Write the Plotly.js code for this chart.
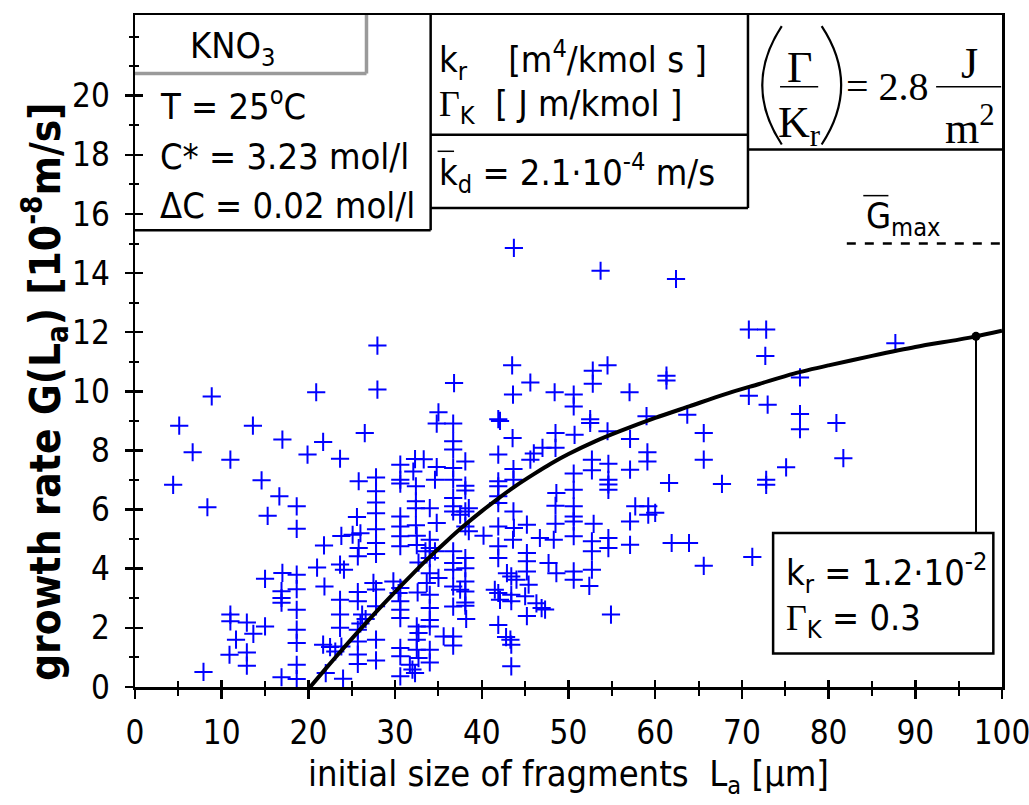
<!DOCTYPE html>
<html>
<head>
<meta charset="utf-8">
<script src="https://cdn.plot.ly/plotly-3.0.1.min.js"></script>
<style>html,body{margin:0;padding:0;background:#fff}#chart{width:1029px;height:805px}</style>
</head>
<body>
<div id="chart"></div>
<script>
// measured fragment data: initial size L_a [µm] and growth rate G [1e-8 m/s]
const sizeLa = [
 8.85,20.9,27.96,5.1,13.6,17.0,21.7,26.5,6.65,11.0,19.9,23.65,4.4,14.6,16.65,18.65,8.35,15.3,18.65,25.8,
 27.8,27.8,27.8,27.8,27.8,27.8,27.8,25.6,23.8,25.1,26.0,25.8,25.7,21.8,21.0,23.65,24.1,21.85,15.0,17.0,
 16.9,16.9,16.9,18.65,18.65,18.65,18.65,18.65,18.65,18.65,16.9,11.0,11.0,12.9,13.65,15.0,11.65,10.9,12.9,12.9,
 7.9,23.65,25.7,27.5,27.8,23.65,23.65,25.7,26.2,26.6,26.0,25.7,27.8,27.8,27.8,25.7,25.7,25.7,21.7,22.5,
 23.1,23.8,22.0,24.0,30.6,30.6,30.6,32.3,32.1,32.4,32.4,32.4,32.4,30.6,30.6,30.6,30.6,32.5,32.5,29.8,
 30.6,30.4,30.6,30.6,30.6,32.6,32.5,32.5,32.5,30.6,30.6,30.6,31.7,32.0,32.3,32.7,32.7,32.7,
 35.0,34.8,36.7,41.9,42.1,36.7,36.7,38.1,36.7,36.7,43.55,41.9,43.65,43.65,45.6,46.0,47.0,48.5,48.5,33.3,
 34.8,34.6,38.1,38.1,36.7,36.7,34.0,34.8,36.7,37.5,38.1,38.5,38.1,38.5,41.9,41.9,41.9,41.9,43.65,45.2,
 41.9,43.7,40.2,48.5,48.5,48.6,34.0,34.0,33.5,34.6,34.0,34.0,35.0,33.65,34.0,34.0,34.0,34.0,34.0,34.0,
 35.6,36.7,36.7,36.7,36.7,36.7,38.1,38.1,38.1,36.7,37.5,38.1,36.7,38.1,38.1,38.2,41.9,41.9,41.5,41.9,
 42.1,43.4,43.4,41.9,42.9,43.4,44.0,42.8,43.3,43.4,43.4,43.6,45.2,45.2,45.2,45.4,45.0,45.2,46.3,46.9,
 47.3,47.7,48.6,46.7,48.3,50.6,52.5,52.5,50.7,54.5,57.1,59.0,63.7,65.6,59.1,59.1,65.6,52.7,54.6,52.7,
 50.6,54.6,54.6,54.6,57.1,61.6,50.6,50.6,50.6,50.6,50.6,52.9,52.7,52.7,54.6,54.6,57.1,57.1,57.7,59.2,
 59.2,60.0,61.9,63.9,65.6,50.6,50.6,52.7,52.4,54.9,27.96,43.7,53.7,62.4,36.8,43.5,45.6,43.6,48.4,50.6,
 52.8,54.5,52.8,57.04,61.3,61.3,70.8,72.8,72.7,87.7,76.7,70.8,72.97,76.7,76.7,80.9,81.7,67.7,72.8,72.8,
 75.1,71.2
];
const growthG = [
 9.83,9.97,10.06,8.84,8.84,8.37,8.29,8.59,7.94,7.69,7.86,7.72,6.84,6.99,6.45,6.11,6.08,5.79,5.35,6.96,
 7.09,6.62,6.24,5.88,5.34,4.87,4.5,5.75,5.11,5.15,5.2,4.7,4.42,4.79,4.04,4.14,3.97,3.40,3.66,3.86,
 3.24,3.01,2.85,3.8,3.31,2.61,1.94,1.49,0.75,0.27,0.33,2.45,2.22,2.18,1.8,2.05,1.6,1.09,1.17,0.72,
 0.51,2.95,3.21,3.52,3.3,2.45,2.0,2.9,2.45,2.3,2.15,1.94,2.73,1.6,0.9,1.54,1.1,0.78,1.43,1.35,
 1.2,1.37,0.47,0.28,7.52,7.01,6.88,7.71,7.29,6.79,6.28,6.05,5.47,5.77,5.43,5.1,4.76,5.12,4.8,3.57,
 3.35,3.18,2.9,2.61,2.33,3.2,2.05,1.6,1.26,1.32,1.04,0.36,0.75,0.59,0.47,1.83,0.98,4.21,
 9.29,8.91,8.91,9.06,9.0,8.31,8.03,7.63,7.41,7.01,8.42,7.86,7.37,7.01,7.69,7.9,8.09,8.59,8.09,7.7,
 7.44,7.01,6.81,6.65,6.39,6.11,6.05,5.55,5.94,5.83,5.94,6.05,5.43,5.27,6.96,6.79,6.45,6.22,5.94,5.49,
 5.43,5.38,5.12,6.13,5.52,6.56,4.98,4.7,4.59,4.59,4.36,3.85,3.69,3.52,3.12,2.67,2.27,2.05,1.26,0.83,
 1.71,1.71,1.4,4.59,4.19,3.97,4.36,4.02,3.57,3.4,3.29,3.23,2.72,2.86,2.75,2.3,4.76,4.36,3.29,3.18,
 2.95,3.12,2.9,2.1,3.85,3.74,3.63,1.69,1.6,1.43,0.7,4.98,4.53,4.25,3.91,3.46,3.07,2.4,2.83,2.67,
 2.62,4.19,3.85,5.04,4.98,9.49,9.06,8.93,8.53,8.65,8.39,9.16,9.21,8.59,7.94,7.63,7.69,7.69,7.55,7.33,
 7.22,7.01,6.85,6.67,7.35,6.9,6.67,6.11,5.77,5.6,5.1,5.52,4.93,4.59,5.04,4.7,5.6,4.81,6.11,6.11,
 5.83,5.89,4.87,4.87,4.1,3.91,3.63,3.97,3.42,2.45,11.55,14.85,14.08,13.8,10.28,10.88,10.3,9.89,9.97,9.89,
 10.7,10.88,10.26,9.97,10.53,10.37,12.09,12.09,11.2,11.63,10.47,9.85,9.55,9.23,8.72,8.93,7.74,6.87,7.01,6.84,
 7.43,4.4
];
// model curve
const curveLa = [20.2,22,24,26,28,30,32,34,36,38,40,42,44,46,48,50,53,56,60,64,68,72,76,80,85,90,95,97,100];
const curveG  = [0,0.62,1.3,1.96,2.6,3.22,3.82,4.4,4.95,5.47,5.95,6.4,6.82,7.2,7.56,7.88,8.3,8.66,9.1,9.5,9.9,10.25,10.6,10.88,11.2,11.5,11.75,11.86,12.05];
// highlighted point and maximum growth rate
const markLa = [97];
const markG = [11.86];
const gMax = 15.0;
const gMaxFrom = 82.1;
const xTickVals = [0,10,20,30,40,50,60,70,80,90,100];
const yTickVals = [0,2,4,6,8,10,12,14,16,18,20];

const FN = "'Liberation Sans Narrow','Arial Narrow','DejaVu Sans Condensed',sans-serif";
const SERIF = "'Liberation Serif','Times New Roman',serif";
const YTOP = 22.73;

const traces = [
  {x:sizeLa, y:growthG, type:'scatter', mode:'markers',
   marker:{symbol:'cross-thin-open', size:13, color:'#0000ff', line:{color:'#0000ff', width:2}},
   hoverinfo:'skip'},
  {x:curveLa, y:curveG, type:'scatter', mode:'lines', line:{color:'#000', width:4, shape:'spline', smoothing:0.8}, hoverinfo:'skip'},
  {x:[gMaxFrom,100], y:[gMax,gMax], type:'scatter', mode:'lines', line:{color:'#000', width:2.5, dash:'dash'}, hoverinfo:'skip'},
  {x:markLa, y:markG, type:'scatter', mode:'markers', marker:{color:'#000', size:9}, hoverinfo:'skip'},
  {x:[null], y:[null], xaxis:'x2', yaxis:'y2', type:'scatter', mode:'markers', showlegend:false, hoverinfo:'skip'}
];

const boxLine = {color:'#000', width:2.5};
const grayLine = {color:'#9a9a9a', width:3.5};
const thin = {color:'#000', width:1.5};
const shapes = [
  // left info box
  {type:'line', xref:'x', yref:'y', x0:0, x1:34.1, y0:15.45, y1:15.45, line:boxLine},
  {type:'line', xref:'x', yref:'y', x0:34.1, x1:34.1, y0:15.45, y1:YTOP, line:boxLine},
  // KNO3 tab
  {type:'line', xref:'x', yref:'y', x0:0, x1:26.7, y0:20.75, y1:20.75, line:grayLine},
  {type:'line', xref:'x', yref:'y', x0:26.7, x1:26.7, y0:20.75, y1:YTOP, line:grayLine},
  // middle boxes
  {type:'line', xref:'x', yref:'y', x0:34.1, x1:70.7, y0:18.68, y1:18.68, line:boxLine},
  {type:'line', xref:'x', yref:'y', x0:34.1, x1:70.7, y0:16.2, y1:16.2, line:boxLine},
  {type:'line', xref:'x', yref:'y', x0:70.7, x1:70.7, y0:16.2, y1:YTOP, line:boxLine},
  // right box
  {type:'line', xref:'x', yref:'y', x0:70.7, x1:100, y0:18.18, y1:18.18, line:boxLine},
  // parentheses and fraction bars of (Gamma/Kr) = 2.8 J/m2
  {type:'path', xref:'x', yref:'y', path:'M 74.6 22.35 Q 70.1 20.35 74.6 18.35', line:{color:'#000', width:2.2}},
  {type:'path', xref:'x', yref:'y', path:'M 79.2 22.35 Q 83.7 20.35 79.2 18.35', line:{color:'#000', width:2.2}},
  {type:'line', xref:'x', yref:'y', x0:74.4, x1:78.8, y0:20.3, y1:20.3, line:thin},
  {type:'line', xref:'x', yref:'y', x0:92.4, x1:99.9, y0:20.3, y1:20.3, line:thin},
  // parameter box and leader line
  {type:'rect', xref:'x', yref:'y', x0:73.6, x1:99.0, y0:1.13, y1:5.21, line:boxLine, fillcolor:'rgba(255,255,255,0)'},
  {type:'line', xref:'x', yref:'y', x0:markLa[0], x1:markLa[0], y0:5.21, y1:markG[0], line:{color:'#000', width:2}},
  // overbars (k_d and G_max)
  {type:'line', xref:'x', yref:'y', x0:34.9, x1:36.8, y0:18.12, y1:18.12, line:thin},
  {type:'line', xref:'x', yref:'y', x0:84.0, x1:86.9, y0:16.62, y1:16.62, line:thin}
];

function ann(text, x, y, opts) {
  return Object.assign({text:text, x:x, y:y, xref:'x', yref:'y', showarrow:false,
    xanchor:'left', yanchor:'middle', font:{family:FN, size:36, color:'#000'}}, opts||{});
}
const G = "<span style=\"font-family:'Liberation Serif',serif\">Γ</span>";
const serif44 = {family:SERIF, size:44, color:'#000'};
const annotations = [
  ann('KNO<sub>3</sub>', 11.2, 21.6, {xanchor:'center'}),
  ann('T = 25<sup>o</sup>C', 2.65, 19.72),
  ann('C* = 3.23 mol/l', 2.65, 17.96),
  ann('ΔC = 0.02 mol/l', 2.65, 16.3),
  ann('k<sub>r</sub>    [m<sup>4</sup>/kmol s ]', 34.85, 21.2, {font:{family:FN, size:36, color:'#000'}}),
  ann(G + '<sub>K</sub>  [ J m/kmol ]', 34.85, 19.65, {font:{family:FN, size:36, color:'#000'}}),
  ann('k<sub>d</sub> = 2.1·10<sup>-4</sup> m/s', 34.85, 17.4),
  ann('Γ', 76.6, 20.95, {xanchor:'center', font:serif44}),
  ann('K<sub>r</sub>', 76.6, 19.0, {xanchor:'center', font:serif44}),
  ann('= 2.8', 86.8, 20.3, {xanchor:'center', font:{family:SERIF, size:40, color:'#000'}}),
  ann('J', 96.2, 21.1, {xanchor:'center', font:serif44}),
  ann('m<sup>2</sup>', 96.3, 19.0, {xanchor:'center', font:serif44}),
  ann('G<sub>max</sub>', 88.6, 15.85, {xanchor:'center'}),
  ann('k<sub>r</sub> = 1.2·10<sup>-2</sup>', 74.8, 3.85),
  ann(G + '<sub>K</sub> = 0.3', 74.8, 2.25),
  // y-axis title
  {text:'<b>growth rate G(L<sub>a</sub>) [10<sup>-8</sup>m/s]</b>', xref:'paper', yref:'paper', x:-0.1038, y:0.439,
   xanchor:'center', yanchor:'middle', textangle:-90, showarrow:false, font:{family:FN, size:42, color:'#000'}}
];

const tickFont = {family:FN, size:33, color:'#000'};
const layout = {
  width:1029, height:805,
  margin:{l:135, r:27, t:15, b:118, pad:0},
  paper_bgcolor:'#fff', plot_bgcolor:'#fff',
  showlegend:false,
  xaxis:{range:[0,100], tickvals:xTickVals, ticks:'outside', ticklen:9, tickwidth:2.5, tickcolor:'#000',
    minor:{dtick:5, tick0:0, ticks:'outside', ticklen:6, tickwidth:2, tickcolor:'#000', showgrid:false},
    showline:true, linewidth:2.5, linecolor:'#000', mirror:true, showgrid:false, zeroline:false,
    tickfont:tickFont, ticklabelstandoff:6, ticklabeloverflow:'allow',
    title:{text:'initial size of fragments  L<sub>a</sub> [µm]', font:{family:FN, size:36, color:'#000'}, standoff:10}},
  yaxis:{range:[0,YTOP], tickvals:yTickVals, ticks:'outside', ticklen:8, tickwidth:2.5, tickcolor:'#000',
    minor:{dtick:1, tick0:0, ticks:'outside', ticklen:4, tickwidth:2, tickcolor:'#000', showgrid:false},
    showline:true, linewidth:2.5, linecolor:'#000', mirror:true, showgrid:false, zeroline:false,
    tickfont:tickFont, ticklabelstandoff:8, ticklabeloverflow:'allow'},
  xaxis2:{overlaying:'x', anchor:'y', range:[0,100], tickvals:xTickVals, ticks:'inside', ticklen:7, tickwidth:2.5, tickcolor:'#000',
    minor:{dtick:5, tick0:0, ticks:'inside', ticklen:6, tickwidth:2, tickcolor:'#000', showgrid:false},
    showticklabels:false, showline:false, showgrid:false, zeroline:false},
  yaxis2:{overlaying:'y', anchor:'x', side:'left', range:[0,YTOP], tickvals:yTickVals, ticks:'inside', ticklen:8, tickwidth:2.5, tickcolor:'#000',
    minor:{dtick:1, tick0:0, ticks:'inside', ticklen:4, tickwidth:2, tickcolor:'#000', showgrid:false},
    showticklabels:false, showline:false, showgrid:false, zeroline:false},
  shapes:shapes,
  annotations:annotations
};
Plotly.newPlot('chart', traces, layout, {displayModeBar:false, staticPlot:true});
</script>
</body>
</html>
